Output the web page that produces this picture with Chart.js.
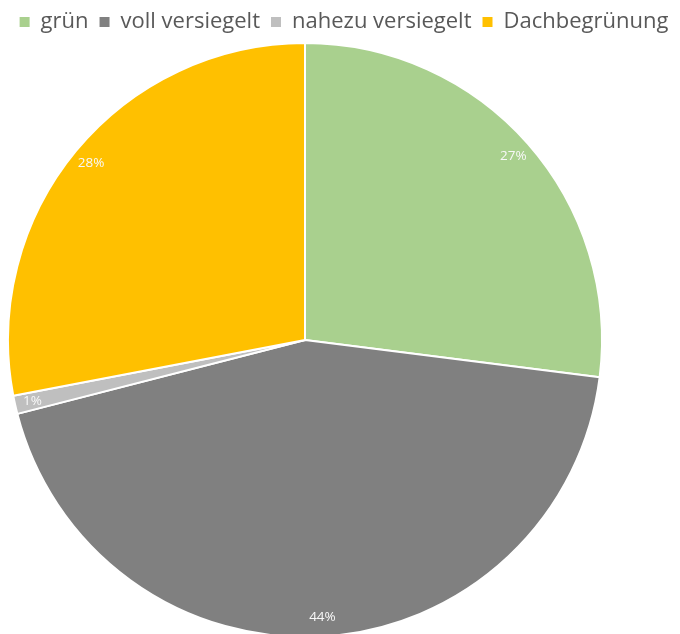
<!DOCTYPE html>
<html>
<head>
<meta charset="utf-8">
<script src="https://cdn.jsdelivr.net/npm/chart.js@4"></script>
<style>
  html, body { margin: 0; padding: 0; background: #fff; overflow: hidden; }
  #wrap { width: 680px; height: 634px; position: relative; }
</style>
</head>
<body>
<div id="wrap"><canvas id="sealChart"></canvas></div>
<script>
const categories = ['grün', 'voll versiegelt', 'nahezu versiegelt', 'Dachbegrünung'];
const shares = [27, 44, 1, 28];
const sliceColors = ['#A9D08E', '#808080', '#BFBFBF', '#FFC000'];

// Pie box: a bit left of the legend centre and running past the bottom edge
const pieArea = {
    id: 'pieArea',
    afterLayout(chart) {
        const area = chart.chartArea;
        area.left = 7;
        area.right = 603;
        area.top = 42;
        area.bottom = 638;
        area.width = area.right - area.left;
        area.height = area.bottom - area.top;
    }
};

// Percent labels near the rim of each slice
const sliceLabels = {
    id: 'sliceLabels',
    afterDatasetsDraw(chart) {
        const {ctx} = chart;
        const meta = chart.getDatasetMeta(0);
        ctx.save();
        ctx.font = '13.5px "Open Sans", sans-serif';
        ctx.fillStyle = '#F8F8F8';
        ctx.textAlign = 'center';
        ctx.textBaseline = 'middle';
        meta.data.forEach((arc, i) => {
            const p = arc.getProps(['x', 'y', 'startAngle', 'endAngle', 'outerRadius'], true);
            const mid = (p.startAngle + p.endAngle) / 2;
            const r = p.outerRadius * (shares[i] < 3 ? 0.94 : 0.935);
            ctx.fillText(shares[i] + '%', p.x + Math.cos(mid) * r, p.y + Math.sin(mid) * r);
        });
        ctx.restore();
    }
};

const defaultLabels = Chart.controllers.pie.overrides.plugins.legend.labels.generateLabels;

new Chart(document.getElementById('sealChart'), {
    type: 'pie',
    data: {
        labels: categories,
        datasets: [{
            data: shares,
            backgroundColor: sliceColors,
            borderColor: '#ffffff',
            borderWidth: 2
        }]
    },
    options: {
        responsive: true,
        maintainAspectRatio: false,
        animation: false,
        layout: { padding: { left: 8 } },
        plugins: {
            legend: {
                position: 'top',
                labels: {
                    boxWidth: 10,
                    boxHeight: 10,
                    padding: 11,
                    color: '#595959',
                    font: { family: '"Open Sans", sans-serif', size: 22 },
                    // solid squares, without the white slice border
                    generateLabels(chart) {
                        return defaultLabels(chart).map(item => ({...item, lineWidth: 0}));
                    }
                }
            },
            tooltip: { enabled: false }
        }
    },
    plugins: [pieArea, sliceLabels]
});
</script>
</body>
</html>
